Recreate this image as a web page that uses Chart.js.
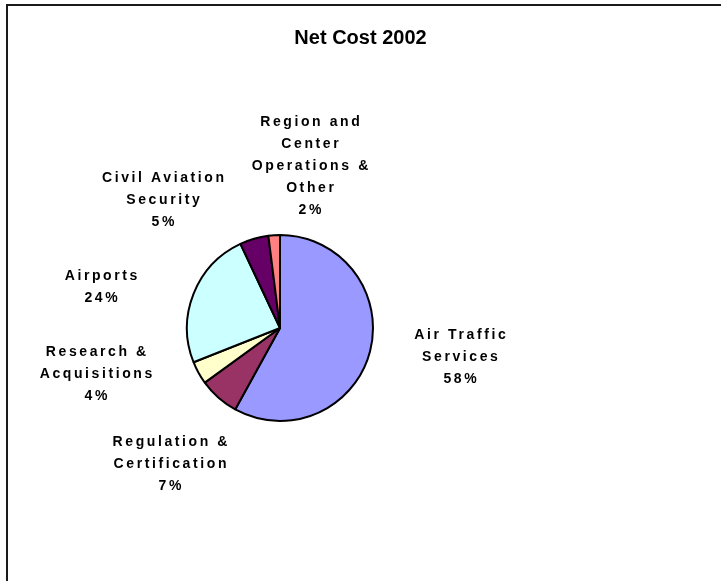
<!DOCTYPE html>
<html>
<head>
<meta charset="utf-8">
<title>Net Cost 2002</title>
<script src="https://cdn.jsdelivr.net/npm/chart.js@4/dist/chart.umd.min.js"></script>
<style>
    html, body {
        margin: 0;
        padding: 0;
        background: #fff;
    }
    .chart-box {
        position: relative;
        width: 721px;
        height: 581px;
        overflow: hidden;
    }
    .chart-frame {
        position: absolute;
        left: 6px;
        top: 4px;
        width: 800px;
        height: 700px;
        border-left: 2px solid #1a1a1a;
        border-top: 2px solid #1a1a1a;
        pointer-events: none;
    }
</style>
</head>
<body>
<div class="chart-box">
    <canvas id="costChart" width="721" height="581"></canvas>
    <div class="chart-frame"></div>
</div>
<script>
const chartTitle = 'Net Cost 2002';

const categories = [
    ['Air Traffic', 'Services'],
    ['Regulation &', 'Certification'],
    ['Research &', 'Acquisitions'],
    ['Airports'],
    ['Civil Aviation', 'Security'],
    ['Region and', 'Center', 'Operations &', 'Other']
];

const shares = [58, 7, 4, 24, 5, 2];

const sliceColors = ['#9999FF', '#993366', '#FFFFCC', '#CCFFFF', '#660066', '#FF8080'];

// where each label block sits, relative to the pie centre
const labelOffsets = [
    [180, 29],
    [-110, 136],
    [-184, 46],
    [-179, -41],
    [-117, -128],
    [30, -162]
];

const LABEL_FONT = 'bold 14px "Liberation Sans", Arial, sans-serif';
const LABEL_SPACING = 2.6;
const LINE_HEIGHT = 22;

document.addEventListener('DOMContentLoaded', function () {
    initChart();
});

function drawSpacedText(ctx, text, x, y, spacing) {
    ctx.letterSpacing = spacing + 'px';
    const width = ctx.measureText(text).width - spacing;
    ctx.fillText(text, x - width / 2, y);
}

const sliceLabels = {
    id: 'sliceLabels',
    afterDraw(chart) {
        const ctx = chart.ctx;
        const meta = chart.getDatasetMeta(0);

        ctx.save();
        ctx.fillStyle = '#000';
        ctx.textAlign = 'left';
        ctx.textBaseline = 'middle';

        // title
        ctx.font = 'bold 20px "Liberation Sans", Arial, sans-serif';
        drawSpacedText(ctx, chartTitle, chart.width / 2, 38, 0);

        ctx.font = LABEL_FONT;
        meta.data.forEach((arc, i) => {
            const lines = categories[i].concat([shares[i] + '%']);
            const cx = arc.x + labelOffsets[i][0];
            const top = arc.y + labelOffsets[i][1] - (lines.length - 1) * LINE_HEIGHT / 2;
            lines.forEach((line, j) => {
                drawSpacedText(ctx, line, cx, top + j * LINE_HEIGHT, LABEL_SPACING);
            });
        });
        ctx.restore();
    }
};

function initChart() {
    const ctx = document.getElementById('costChart').getContext('2d');
    new Chart(ctx, {
        type: 'pie',
        data: {
            labels: categories,
            datasets: [{
                data: shares,
                backgroundColor: sliceColors,
                borderColor: '#000',
                borderWidth: 2
            }]
        },
        options: {
            responsive: false,
            animation: false,
            layout: {
                padding: { left: 186, right: 347, top: 234, bottom: 159 }
            },
            plugins: {
                legend: { display: false },
                tooltip: { enabled: false }
            }
        },
        plugins: [sliceLabels]
    });
}
</script>
</body>
</html>
